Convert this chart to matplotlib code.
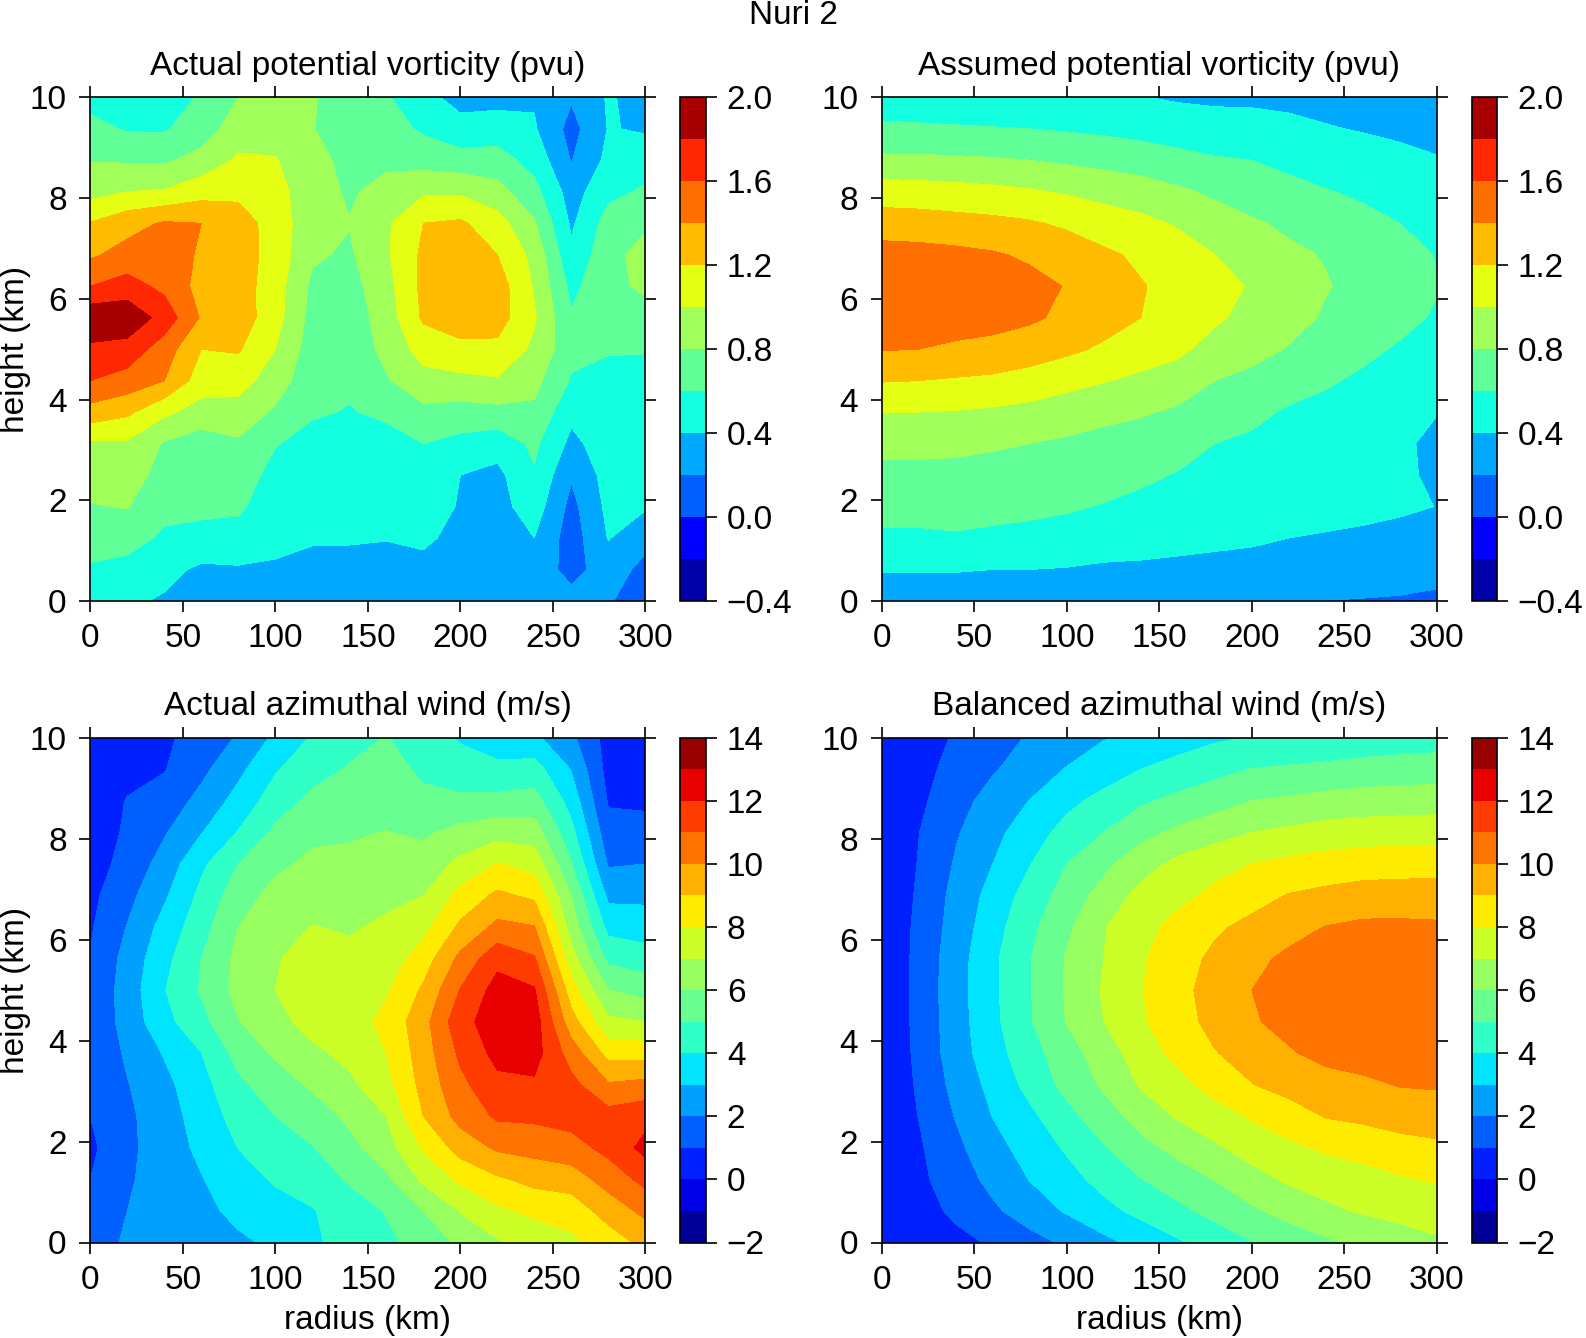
import numpy as np
import matplotlib
matplotlib.use("Agg")
import matplotlib.pyplot as plt
from matplotlib.ticker import FuncFormatter

plt.rcParams["font.family"] = ["Liberation Sans", "DejaVu Sans"]

radius = [0, 20, 40, 60, 80, 100, 120, 140, 160, 180, 200, 220, 240, 260, 280, 300]
height = [0, 0.625, 1.25, 1.875, 2.5, 3.125, 3.75, 4.375, 5, 5.625, 6.25, 6.875, 7.5, 8.125, 8.75, 9.375, 10]

pv_levels = [-0.4, -0.2, 0, 0.2, 0.4, 0.6, 0.8, 1.0, 1.2, 1.4, 1.6, 1.8, 2.0]
wind_levels = [-2, -1, 0, 1, 2, 3, 4, 5, 6, 7, 8, 9, 10, 11, 12, 13, 14]
pv_ticks = [-0.4, 0.0, 0.4, 0.8, 1.2, 1.6, 2.0]
wind_ticks = [-2, 0, 2, 4, 6, 8, 10, 12, 14]

pv_colors = ["#0000A8", "#0000FF", "#0060FF", "#00A8FF", "#14FFE0", "#60FF98",
             "#A0FF58", "#E4FF14", "#FFBC00", "#FF7000", "#FF2800", "#A80000"]
wind_colors = ["#000098", "#0000E8", "#0020FF", "#0060FF", "#00A0FF", "#00E4FF",
               "#30FFC8", "#68FF90", "#98FF60", "#CCFF28", "#FFEC00", "#FFB000",
               "#FF7400", "#FF3C00", "#E80000", "#980000"]

# one list per radius, bottom to top
pv_actual = [
    [.42, .577, .685, .79, .87, .97, 1.32, 1.6, 1.76, 1.95, 1.6, 1.37, 1.21, .93, .79, .67, .52],
    [.43, .54, .67, .81, .9, .97, 1.24, 1.52, 1.72, 1.95, 1.68, 1.47, 1.33, 1.0, .78, .58, .52],
    [.38, .45, .57, .65, .72, .78, 1.04, 1.4, 1.5, 1.72, 1.55, 1.48, 1.42, 1.02, .77, .58, .56],
    [.28, .37, .52, .66, .68, .7, .92, 1.1, 1.2, 1.38, 1.33, 1.38, 1.4, 1.12, .87, .7, .61],
    [.27, .38, .53, .63, .69, .77, .92, 1.08, 1.22, 1.31, 1.3, 1.3, 1.3, 1.15, 1.03, .9, .8],
    [.28, .37, .46, .5, .54, .61, .77, .9, 1.0, 1.08, 1.09, 1.12, 1.11, 1.06, 1.01, .93, .88],
    [.29, .34, .42, .47, .5, .54, .62, .67, .7, .73, .76, .83, .87, .9, .88, .81, .83],
    [.28, .33, .42, .46, .5, .55, .59, .63, .66, .68, .72, .77, .81, .77, .73, .66, .62],
    [.2, .31, .41, .44, .47, .54, .63, .78, .86, .9, .93, .97, .97, .88, .75, .68, .62],
    [.3, .35, .43, .46, .5, .6, .75, .93, 1.08, 1.23, 1.25, 1.24, 1.2, .97, .72, .57, .46],
    [.27, .3, .35, .39, .4, .54, .72, .95, 1.15, 1.3, 1.35, 1.32, 1.23, .97, .68, .47, .33],
    [.29, .3, .31, .33, .35, .48, .74, .98, 1.15, 1.29, 1.3, 1.2, 1.08, .87, .68, .5, .33],
    [.3, .32, .4, .5, .58, .64, .76, .86, .96, 1.02, .98, .94, .82, .66, .53, .42, .38],
    [.27, .13, .1, .14, .22, .35, .45, .58, .66, .62, .55, .44, .37, .31, .19, .13, .22],
    [.22, .3, .41, .45, .48, .5, .52, .56, .61, .68, .74, .74, .68, .55, .45, .41, .42],
    [.08, .14, .26, .42, .46, .48, .5, .55, .61, .72, .84, .87, .77, .63, .5, .38, .33],
]

pv_assumed = [
    [.30, .41, .57, .66, .74, .86, 1.00, 1.21, 1.41, 1.50, 1.52, 1.48, 1.30, 1.10, .84, .64, .48],
    [.30, .41, .57, .66, .75, .85, 1.00, 1.20, 1.40, 1.50, 1.52, 1.47, 1.29, 1.09, .84, .63, .47],
    [.30, .41, .58, .67, .75, .84, .99, 1.18, 1.37, 1.48, 1.51, 1.45, 1.27, 1.07, .83, .62, .46],
    [.30, .40, .56, .66, .74, .82, .97, 1.16, 1.35, 1.46, 1.49, 1.42, 1.25, 1.05, .82, .61, .45],
    [.29, .40, .55, .64, .72, .80, .94, 1.12, 1.30, 1.43, 1.46, 1.37, 1.22, 1.02, .80, .60, .44],
    [.28, .39, .53, .62, .70, .77, .90, 1.06, 1.24, 1.36, 1.39, 1.30, 1.17, .98, .77, .58, .42],
    [.27, .37, .50, .59, .67, .74, .85, 1.01, 1.17, 1.28, 1.33, 1.23, 1.11, .93, .74, .56, .41],
    [.26, .37, .47, .56, .63, .71, .82, .96, 1.10, 1.20, 1.21, 1.17, 1.05, .89, .71, .53, .405],
    [.26, .37, .44, .52, .59, .67, .77, .91, 1.04, 1.12, 1.15, 1.09, .98, .83, .66, .50, .38],
    [.25, .36, .43, .50, .55, .60, .70, .80, .93, 1.03, 1.08, 1.00, .88, .77, .62, .47, .37],
    [.25, .35, .42, .47, .52, .57, .64, .76, .85, .94, .98, .91, .82, .72, .60, .46, .37],
    [.23, .33, .40, .45, .49, .53, .58, .67, .79, .86, .89, .83, .77, .66, .55, .44, .36],
    [.198, .32, .39, .44, .47, .50, .55, .62, .70, .78, .81, .79, .70, .61, .50, .41, .35],
    [.19, .30, .38, .43, .46, .48, .52, .57, .64, .71, .75, .72, .65, .57, .47, .39, .34],
    [.18, .29, .36, .42, .43, .43, .47, .52, .58, .65, .69, .67, .60, .53, .44, .37, .33],
    [.15, .28, .35, .398, .37, .36, .405, .47, .53, .58, .61, .59, .54, .48, .41, .35, .31],
]

wind_actual = [
    [1.3, 1.2, 1.0, .8, 1.0, 1.1, 1.15, 1.15, 1.15, 1.03, .9, .75, .6, .45, .35, .25, .2],
    [2.2, 2.0, 1.87, 1.76, 1.8, 1.95, 2.15, 2.4, 2.45, 2.35, 2.04, 1.7, 1.3, 1.14, 1.05, .7, .55],
    [2.32, 2.39, 2.47, 2.54, 2.58, 2.73, 3.07, 3.7, 3.95, 3.7, 3.35, 2.85, 2.4, 1.9, 1.4, .95, .85],
    [2.59, 2.78, 2.95, 3.2, 3.4, 3.65, 3.98, 4.7, 5.1, 5.0, 4.6, 4.25, 3.8, 2.95, 2.3, 1.75, 1.35],
    [2.86, 3.21, 3.6, 4.02, 4.4, 4.8, 5.35, 5.95, 6.3, 6.25, 6.0, 5.55, 5.0, 4.05, 3.35, 2.75, 2.1],
    [3.15, 3.67, 4.1, 4.5, 5.0, 5.5, 6.15, 6.7, 7.0, 6.95, 6.7, 6.3, 5.8, 5.2, 4.5, 3.9, 3.2],
    [3.85, 3.93, 4.5, 4.95, 5.5, 6.15, 6.8, 7.35, 7.45, 7.25, 7.03, 6.6, 6.2, 5.8, 5.25, 4.6, 4.1],
    [4.34, 4.57, 5.1, 5.7, 6.2, 6.8, 7.25, 7.55, 7.55, 7.25, 6.9, 6.6, 6.2, 5.9, 5.4, 5.1, 4.6],
    [4.8, 5.05, 5.8, 6.6, 7.0, 7.65, 8.0, 8.25, 7.9, 7.4, 7.15, 6.8, 6.5, 6.02, 5.7, 5.4, 5.05],
    [5.36, 6.0, 7.2, 8.1, 9.0, 9.33, 9.5, 9.65, 9.15, 8.5, 7.7, 7.0, 6.4, 5.85, 5.25, 4.8, 4.45],
    [6.2, 7.06, 8.2, 9.4, 10.35, 10.75, 11.2, 11.65, 11.05, 10.25, 9.2, 8.3, 7.25, 6.3, 5.2, 4.4, 3.9],
    [6.9, 7.8, 8.85, 10.15, 11.15, 11.75, 12.3, 12.55, 12.4, 11.7, 10.25, 9.2, 8.05, 6.6, 5.3, 4.2, 3.55],
    [7.34, 8.23, 9.3, 10.35, 11.2, 11.85, 12.4, 12.5, 12.1, 11.1, 10.05, 8.8, 7.6, 6.5, 5.4, 4.4, 3.2],
    [7.8, 8.4, 9.5, 10.6, 11.4, 11.3, 10.55, 9.4, 8.45, 7.4, 6.55, 6.0, 5.05, 4.3, 3.6, 2.95, 2.2],
    [8.46, 9.44, 10.4, 11.3, 11.4, 10.1, 8.65, 7.2, 6.0, 4.75, 3.7, 2.75, 1.9, 1.35, .9, .65, .6],
    [9.3, 10.25, 11.3, 12.3, 11.7, 10.3, 8.6, 7.0, 5.6, 4.5, 3.45, 2.8, 2.0, 1.3, .85, .6, .5],
]

# one list per height, top to bottom
wind_balanced = [
    [.1, .55, 1.1, 1.6, 2.09, 2.5, 2.95, 3.25, 3.55, 3.85, 4.05, 4.2, 4.3, 4.4, 4.48, 4.55],
    [.1, .7, 1.3, 1.9, 2.5, 3.05, 3.5, 4.0, 4.35, 4.7, 5.03, 5.12, 5.22, 5.35, 5.45, 5.5],
    [.1, .8, 1.6, 2.4, 3.02, 3.75, 4.3, 4.85, 5.25, 5.6, 6.0, 6.15, 6.35, 6.45, 6.5, 6.55],
    [.05, .98, 1.9, 2.7, 3.55, 4.33, 5.0, 5.67, 6.2, 6.6, 7.0, 7.2, 7.4, 7.5, 7.55, 7.57],
    [.05, 1.05, 2.1, 3.0, 3.96, 5.0, 5.75, 6.6, 7.25, 7.7, 8.0, 8.25, 8.4, 8.55, 8.58, 8.6],
    [.05, 1.15, 2.3, 3.35, 4.42, 5.4, 6.4, 7.3, 7.75, 8.2, 8.65, 9.05, 9.25, 9.4, 9.45, 9.46],
    [.05, 1.25, 2.4, 3.6, 4.75, 5.8, 6.95, 7.65, 8.3, 8.85, 9.25, 9.65, 10.03, 10.2, 10.2, 10.15],
    [.05, 1.3, 2.55, 3.8, 4.95, 6.08, 7.0, 7.87, 8.6, 9.2, 9.75, 10.2, 10.4, 10.55, 10.6, 10.6],
    [.05, 1.3, 2.6, 3.8, 4.95, 6.1, 7.1, 7.95, 8.7, 9.4, 10.0, 10.35, 10.55, 10.7, 10.75, 10.75],
    [.05, 1.3, 2.55, 3.75, 4.9, 6.05, 7.0, 7.87, 8.6, 9.3, 9.9, 10.3, 10.55, 10.65, 10.7, 10.7],
    [.05, 1.25, 2.5, 3.6, 4.6, 5.6, 6.5, 7.5, 8.3, 8.95, 9.4, 9.9, 10.3, 10.45, 10.5, 10.5],
    [.05, 1.15, 2.3, 3.3, 4.3, 5.3, 6.15, 7.1, 7.7, 8.35, 8.97, 9.35, 9.6, 9.8, 10.05, 10.1],
    [.05, 1.02, 2.05, 3.02, 3.78, 4.7, 5.55, 6.4, 7.1, 7.6, 8.1, 8.55, 9.05, 9.2, 9.4, 9.5],
    [.05, .87, 1.77, 2.65, 3.4, 4.12, 4.92, 5.67, 6.3, 6.85, 7.4, 7.8, 8.15, 8.4, 8.65, 8.8],
    [.05, .78, 1.52, 2.27, 3.03, 3.65, 4.33, 4.97, 5.5, 6.03, 6.65, 7.15, 7.4, 7.6, 7.9, 8.1],
    [.05, .6, 1.2, 1.83, 2.47, 3.1, 3.7, 4.27, 4.77, 5.3, 5.84, 6.35, 6.8, 7.1, 7.3, 7.5],
    [.05, .4, .72, 1.12, 1.65, 2.17, 2.75, 3.32, 3.88, 4.43, 4.97, 5.4, 5.83, 6.2, 6.55, 6.85],
]

W, H = 1586, 1338
fs = 24


def box(x0, x1, y0, y1):
    return [x0 / W, 1 - y1 / H, (x1 - x0) / W, (y1 - y0) / H]


def panel(fig, rect, cbar_rect, values, levels, colors, ticks, fmt, title, left, bottom):
    ax = fig.add_axes(box(*rect))
    cs = ax.contourf(radius, height, values, levels=levels, colors=colors)
    ax.set_xlim(0, 300)
    ax.set_ylim(0, 10)
    ax.set_xticks([0, 50, 100, 150, 200, 250, 300])
    ax.set_yticks([0, 2, 4, 6, 8, 10])
    ax.tick_params(top=True, right=True, direction="out", length=8, width=1.2, labelsize=fs)
    ax.tick_params(axis="x", pad=8)
    ax.tick_params(axis="y", pad=9)
    for s in ax.spines.values():
        s.set_linewidth(1.2)
    ax.set_title(title, fontsize=fs, pad=16)
    if left:
        ax.set_ylabel("height (km)", fontsize=fs, va="center")
        ax.yaxis.set_label_coords(-0.135, 0.5)
    if bottom:
        ax.set_xlabel("radius (km)", fontsize=fs, labelpad=7)

    cax = fig.add_axes(box(*cbar_rect))
    cb = fig.colorbar(cs, cax=cax, ticks=ticks,
                      format=FuncFormatter(lambda v, p: (fmt % v).replace("-", "\u2212")))
    cb.outline.set_linewidth(1.2)
    cb.ax.tick_params(direction="out", length=8, width=1.2, labelsize=fs, pad=7)
    return ax


fig = plt.figure(figsize=(W / 100, H / 100), dpi=100)

top = (97.3, 601)
low = (737.7, 1242.5)
lx = (90.3, 645.4)
rx = (881.7, 1437)
lc = (680, 706)
rc = (1471.7, 1496.8)

panel(fig, (*lx, *top), (*lc, *top), np.array(pv_actual).T, pv_levels, pv_colors, pv_ticks, "%.1f",
      "Actual potential vorticity (pvu)", True, False)
panel(fig, (*rx, *top), (*rc, *top), np.array(pv_assumed).T, pv_levels, pv_colors, pv_ticks, "%.1f",
      "Assumed potential vorticity (pvu)", False, False)
panel(fig, (*lx, *low), (*lc, *low), np.array(wind_actual).T, wind_levels, wind_colors, wind_ticks, "%d",
      "Actual azimuthal wind (m/s)", True, True)
panel(fig, (*rx, *low), (*rc, *low), np.array(wind_balanced)[::-1], wind_levels, wind_colors, wind_ticks, "%d",
      "Balanced azimuthal wind (m/s)", False, True)

fig.text(793 / W, 1 - 16 / H, "Nuri 2", ha="center", va="center", fontsize=fs)

fig.savefig("out.png", dpi=100)
